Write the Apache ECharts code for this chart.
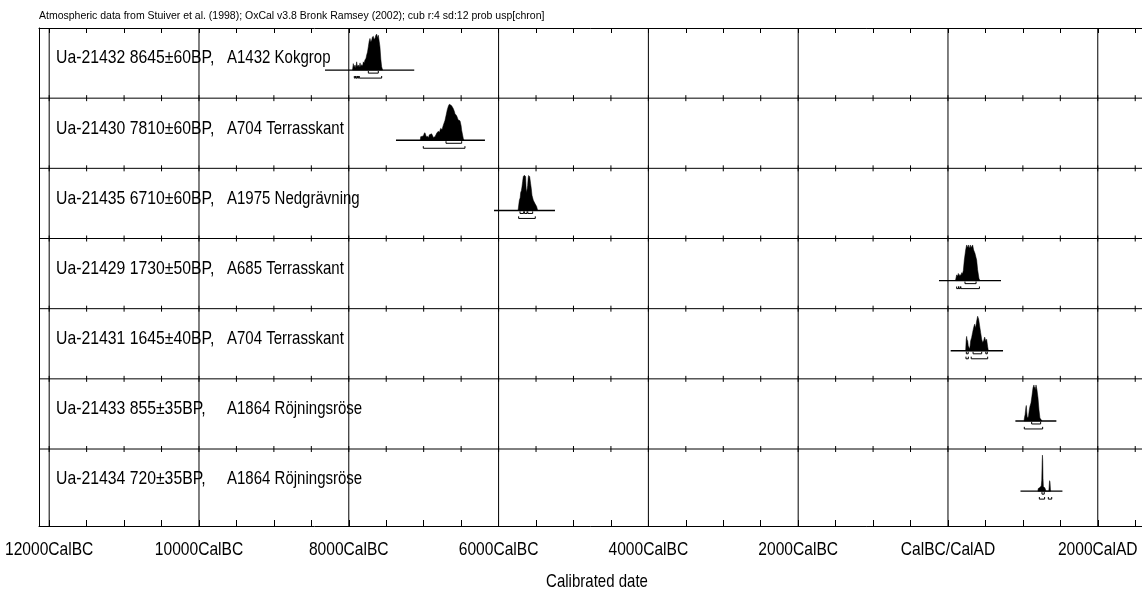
<!DOCTYPE html>
<html>
<head>
<meta charset="utf-8">
<script src="https://cdn.jsdelivr.net/npm/echarts@6/dist/echarts.min.js"></script>
<style>
html,body{margin:0;padding:0;background:#fff;}
#main{width:1142px;height:590px;}
</style>
</head>
<body>
<div id="main"></div>
<script>
// ---- data ----
const headerText = 'Atmospheric data from Stuiver et al. (1998); OxCal v3.8 Bronk Ramsey (2002); cub r:4 sd:12 prob usp[chron]';
const axisTitle = 'Calibrated date';
const labIds = ['Ua-21432', 'Ua-21430', 'Ua-21435', 'Ua-21429', 'Ua-21431', 'Ua-21433', 'Ua-21434'];
const bpDates = ['8645±60BP,', '7810±60BP,', '6710±60BP,', '1730±50BP,', '1645±40BP,', '855±35BP,', '720±35BP,'];
const contexts = ['A1432 Kokgrop', 'A704 Terrasskant', 'A1975 Nedgrävning', 'A685 Terrasskant', 'A704 Terrasskant', 'A1864 Röjningsröse', 'A1864 Röjningsröse'];

// calendar years (negative = BC)
const axisLabelYears = [-12000, -10000, -8000, -6000, -4000, -2000, 0, 2000];
const axisLabelTexts = ['12000CalBC', '10000CalBC', '8000CalBC', '6000CalBC', '4000CalBC', '2000CalBC', 'CalBC/CalAD', '2000CalAD'];
const minorTickYears = [-12000, -11500, -11000, -10500, -10000, -9500, -9000, -8500, -8000, -7500, -7000, -6500, -6000, -5500, -5000, -4500, -4000, -3500, -3000, -2500, -2000, -1500, -1000, -500, 0, 500, 1000, 1500, 2000, 2500];
const rowSeparators = [1, 2, 3, 4, 5, 6];

// plotted range (baseline) of each distribution
const rangeStarts = [-8318, -7370, -6061, -120, 36, 900, 968];
const rangeEnds = [-7126, -6182, -5247, 708, 735, 1447, 1528];

// probability distributions [year, relative probability]
const dens1 = [[-7950,0],[-7940,0.18],[-7930,0.08],[-7917,0.14],[-7905,0.06],[-7895,0.23],[-7885,0.1],[-7873,0.14],[-7860,0.08],[-7850,0.2],[-7840,0.1],[-7828,0.15],[-7815,0.12],[-7806,0.23],[-7795,0.2],[-7784,0.28],[-7770,0.33],[-7761,0.42],[-7750,0.5],[-7739,0.65],[-7728,0.8],[-7717,0.88],[-7706,0.78],[-7695,0.83],[-7684,0.92],[-7673,0.94],[-7662,0.86],[-7650,0.88],[-7640,0.96],[-7628,1.0],[-7617,0.9],[-7606,0.97],[-7593,0.79],[-7584,0.65],[-7572,0.3],[-7561,0.09],[-7548,0]];
const dens2 = [[-7045,0],[-7040,0.1],[-7005,0.12],[-6990,0.2],[-6983,0.21],[-6965,0.1],[-6952,0.11],[-6935,0.08],[-6925,0.15],[-6894,0.18],[-6870,0.08],[-6849,0.1],[-6825,0.2],[-6805,0.25],[-6790,0.22],[-6774,0.33],[-6755,0.3],[-6738,0.42],[-6716,0.55],[-6700,0.7],[-6685,0.85],[-6670,0.95],[-6658,1.0],[-6640,0.98],[-6627,0.96],[-6605,0.88],[-6590,0.8],[-6582,0.74],[-6560,0.68],[-6545,0.6],[-6538,0.56],[-6515,0.54],[-6500,0.4],[-6493,0.28],[-6471,0.05],[-6462,0]];
const dens3 = [[-5740,0],[-5723,0.28],[-5712,0.35],[-5705,0.5],[-5696,0.55],[-5688,0.65],[-5679,0.8],[-5670,0.94],[-5660,0.97],[-5652,0.97],[-5639,0.94],[-5632,0.6],[-5625,0.5],[-5612,0.69],[-5605,0.9],[-5599,0.97],[-5585,0.94],[-5572,0.74],[-5563,0.6],[-5554,0.42],[-5536,0.28],[-5514,0.19],[-5492,0.11],[-5478,0]];
const dens4 = [[100,0],[116,0.16],[127,0.12],[138,0.2],[150,0.13],[160,0.17],[172,0.14],[183,0.22],[195,0.2],[205,0.28],[218,0.57],[236,0.85],[249,0.99],[256,0.93],[263,0.94],[272,0.99],[280,0.92],[285,0.9],[298,0.99],[306,0.92],[316,0.94],[329,0.99],[343,0.85],[360,0.76],[383,0.57],[396,0.3],[414,0.06],[427,0]];
const dens5 = [[236,0],[243,0.3],[249,0.4],[256,0.3],[263,0.28],[270,0.15],[276,0.11],[289,0.05],[296,0.15],[303,0.28],[316,0.37],[329,0.51],[343,0.65],[356,0.74],[369,0.63],[383,0.83],[396,0.96],[409,0.88],[423,0.69],[436,0.51],[450,0.32],[463,0.23],[476,0.28],[490,0.38],[503,0.28],[516,0.32],[530,0.11],[539,0]];
const dens6 = [[1015,0],[1022,0.1],[1030,0.18],[1036,0.3],[1041,0.39],[1046,0.43],[1051,0.27],[1058,0.12],[1068,0.08],[1076,0.15],[1085,0.3],[1095,0.41],[1108,0.5],[1121,0.69],[1135,0.92],[1148,1.0],[1155,0.9],[1162,0.94],[1168,0.85],[1175,1.0],[1188,0.87],[1202,0.64],[1215,0.31],[1228,0.08],[1245,0.03],[1255,0]];
const dens7 = [[1200,0],[1205,0.07],[1225,0.1],[1245,0.14],[1252,0.3],[1257,0.8],[1261,1.0],[1265,0.85],[1269,0.35],[1274,0.12],[1290,0.1],[1300,0.06],[1308,0],[1346,0],[1350,0.1],[1356,0.29],[1362,0.26],[1368,0.05],[1372,0]];

// 68.2% and 95.4% ranges
const sigma1 = [
  [[-7739,-7606]],
  [[-6702,-6493]],
  [[-5714,-5665],[-5655,-5620],[-5610,-5545]],
  [[227,375]],
  [[245,270],[335,450],[505,525]],
  [[1117,1237]],
  [[1255,1285]]
];
const sigma2 = [
  [[-7926,-7912],[-7905,-7890],[-7882,-7868],[-7860,-7561]],
  [[-7005,-6449]],
  [[-5732,-5510]],
  [[116,140],[145,165],[172,420]],
  [[240,272],[310,530]],
  [[1019,1264]],
  [[1220,1290],[1340,1385]]
];

// ---- layout constants ----
const densities = [dens1, dens2, dens3, dens4, dens5, dens6, dens7];
const X_MIN = -12136, X_MAX = 2764, Y_MAX = 7.097;
const BASE = 0.6, PEAK = 0.513, S1 = 0.043, S2 = 0.114, BRK = 0.03, LABEL_Y = 0.43;
const FONT = 'normal 19px "Liberation Sans", Arial, sans-serif';

const chart = echarts.init(document.getElementById('main'), null, {renderer: 'canvas'});

function vLine(params, api) {
  const v = api.value(0);
  const p1 = api.coord([v, 0]);
  const p2 = api.coord([v, Y_MAX]);
  return {type: 'line', shape: {x1: p1[0], y1: p1[1], x2: p2[0], y2: p2[1]}, style: {stroke: '#000', lineWidth: 1}};
}

function sepLine(params, api) {
  const v = api.value(0);
  const cs = params.coordSys;
  const y = api.coord([X_MIN, v])[1];
  const children = [{type: 'line', shape: {x1: cs.x, y1: y, x2: cs.x + cs.width, y2: y}, style: {stroke: '#000', lineWidth: 1}}];
  minorTickYears.forEach(function (t) {
    const x = api.coord([t, v])[0];
    children.push({type: 'line', shape: {x1: x, y1: y - 3, x2: x, y2: y + 3}, style: {stroke: '#000', lineWidth: 1}});
  });
  return {type: 'group', children: children};
}

function distItem(params, api) {
  const i = params.dataIndex;
  const b = i + BASE;
  const children = [];
  const pts = densities[i].map(function (d) { return api.coord([d[0], b - d[1] * PEAK]); });
  children.push({type: 'polygon', shape: {points: pts}, style: {fill: '#000', stroke: '#000', lineWidth: 0.5}});
  const a = api.coord([rangeStarts[i], b]);
  const e = api.coord([rangeEnds[i], b]);
  children.push({type: 'line', shape: {x1: a[0], y1: a[1], x2: e[0], y2: e[1]}, style: {stroke: '#000', lineWidth: 1.4}});
  [[sigma1[i], S1], [sigma2[i], S2]].forEach(function (set) {
    set[0].forEach(function (r) {
      const p1 = api.coord([r[0], b + set[1]]);
      const p2 = api.coord([r[1], b + set[1]]);
      const up = api.coord([r[0], b + set[1] - BRK])[1];
      children.push({type: 'polyline', shape: {points: [[p1[0], up], [p1[0], p1[1]], [p2[0], p2[1]], [p2[0], up]]}, style: {stroke: '#000', lineWidth: 1, fill: null}});
    });
  });
  return {type: 'group', children: children};
}

function labelItem(params, api) {
  const i = params.dataIndex;
  const cs = params.coordSys;
  const y = api.coord([X_MIN, i + LABEL_Y])[1];
  return {type: 'group', children: [
    {type: 'text', x: cs.x + 17, y: y, scaleX: 0.83, style: {text: labIds[i] + ' ' + bpDates[i], fill: '#000', font: FONT, align: 'left', verticalAlign: 'middle'}},
    {type: 'text', x: cs.x + 188, y: y, scaleX: 0.79, style: {text: contexts[i], fill: '#000', font: FONT, align: 'left', verticalAlign: 'middle'}}
  ]};
}

function axisLabelItem(params, api) {
  const i = params.dataIndex;
  const p = api.coord([axisLabelYears[i], Y_MAX]);
  return {type: 'text', x: p[0], y: p[1] + 24, scaleX: 0.82,
    style: {text: axisLabelTexts[i], fill: '#000', font: FONT, align: 'center', verticalAlign: 'middle'}};
}

const option = {
  backgroundColor: '#fff',
  animation: false,
  title: {
    text: headerText, left: 34, top: 6,
    textStyle: {fontSize: 10.5, fontWeight: 'normal', color: '#000', fontFamily: 'Liberation Sans, Arial, sans-serif'}
  },
  grid: {left: 39, right: -13, top: 28, bottom: 64, containLabel: false, outerBoundsMode: 'none'},
  xAxis: [
    {
      type: 'value', min: X_MIN, max: X_MAX, position: 'bottom',
      axisLine: {show: true, onZero: false, lineStyle: {color: '#000', width: 1}},
      axisTick: {show: true, inside: true, length: 6, customValues: minorTickYears, lineStyle: {color: '#000'}},
      axisLabel: {show: false},
      splitLine: {show: false}
    },
    {
      type: 'value', min: X_MIN, max: X_MAX, position: 'top',
      axisLine: {show: true, onZero: false, lineStyle: {color: '#000', width: 1}},
      axisTick: {show: true, inside: true, length: 5, customValues: minorTickYears, lineStyle: {color: '#000'}},
      axisLabel: {show: false},
      splitLine: {show: false}
    }
  ],
  yAxis: {
    type: 'value', min: 0, max: Y_MAX, inverse: true,
    axisLine: {show: true, onZero: false, lineStyle: {color: '#000', width: 1}},
    axisTick: {show: false}, axisLabel: {show: false}, splitLine: {show: false}
  },
  graphic: [
    {type: 'text', x: 597, y: 582, scaleX: 0.79, silent: true,
      style: {text: axisTitle, fill: '#000', font: FONT, align: 'center', verticalAlign: 'middle'}}
  ],
  series: [
    {type: 'custom', name: 'grid', coordinateSystem: 'cartesian2d', renderItem: vLine, silent: true,
      data: axisLabelYears.map(function (v) { return [v]; }), encode: {x: 0}},
    {type: 'custom', name: 'rows', coordinateSystem: 'cartesian2d', renderItem: sepLine, silent: true,
      data: rowSeparators.map(function (v) { return [v]; }), encode: {y: 0}},
    {type: 'custom', name: 'distributions', coordinateSystem: 'cartesian2d', renderItem: distItem, silent: true,
      data: rangeStarts.map(function (s, i) { return [s, i]; }), encode: {x: 0, y: 1}},
    {type: 'custom', name: 'labels', coordinateSystem: 'cartesian2d', renderItem: labelItem, silent: true,
      data: labIds.map(function (s, i) { return [rangeStarts[i], i]; }), encode: {x: 0, y: 1}},
    {type: 'custom', name: 'axisLabels', coordinateSystem: 'cartesian2d', renderItem: axisLabelItem, silent: true, clip: false,
      data: axisLabelYears.map(function (v) { return [v, Y_MAX]; }), encode: {x: 0, y: 1}}
  ]
};
chart.setOption(option);
</script>
</body>
</html>
